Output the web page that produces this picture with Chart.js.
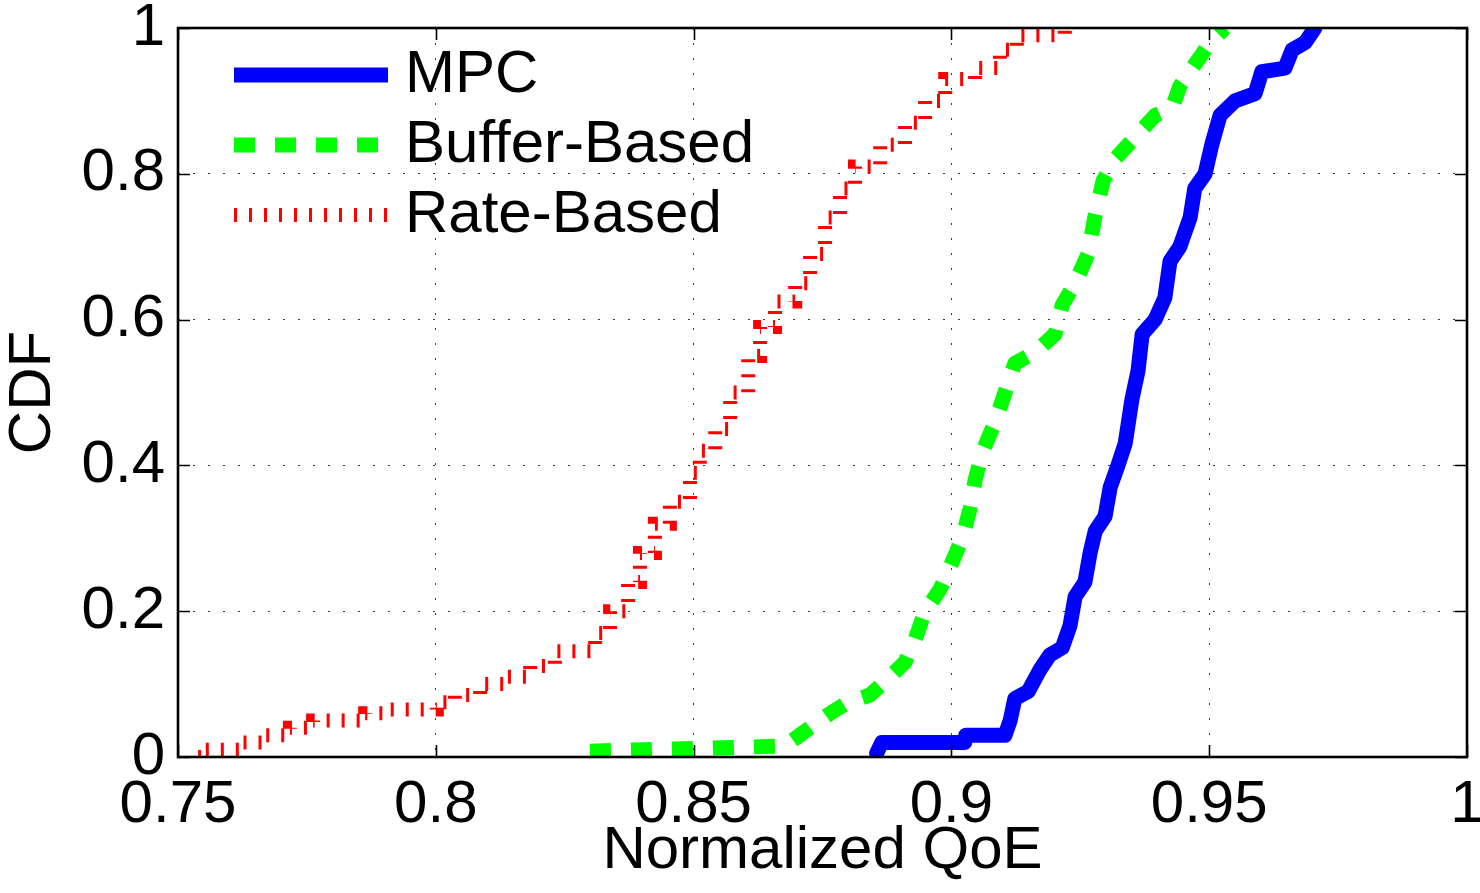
<!DOCTYPE html>
<html>
<head>
<meta charset="utf-8">
<title>CDF of Normalized QoE</title>
<script src="https://cdn.jsdelivr.net/npm/chart.js@4.4.1/dist/chart.umd.min.js"></script>
<style>
  html, body { margin: 0; padding: 0; background: #fff; }
  #cdf-chart { display: block; }
</style>
</head>
<body>
<canvas id="cdf-chart" width="1480" height="893"></canvas>
<script>
"use strict";

// values
const seriesLabels = ["MPC", "Buffer-Based", "Rate-Based"];

const mpcQoe = [0.8855, 0.8865, 0.9026, 0.9028, 0.9104, 0.9114, 0.9123, 0.9149, 0.9172, 0.9191,
  0.9215, 0.923, 0.924, 0.9259, 0.9269, 0.9279, 0.9298, 0.9308, 0.9323, 0.9337,
  0.935, 0.9362, 0.937, 0.9395, 0.9414, 0.9424, 0.9443, 0.9463, 0.9472, 0.9492,
  0.9505, 0.9521, 0.955, 0.9589, 0.9602, 0.9647, 0.9661, 0.9686, 0.9705];
const mpcCdf = [0.005, 0.02, 0.02, 0.03, 0.03, 0.05, 0.08, 0.09, 0.12, 0.14,
  0.15, 0.18, 0.22, 0.24, 0.28, 0.31, 0.33, 0.37, 0.4, 0.43,
  0.49, 0.53, 0.58, 0.6, 0.63, 0.68, 0.7, 0.74, 0.78, 0.8,
  0.84, 0.88, 0.9, 0.91, 0.94, 0.945, 0.97, 0.98, 1.0];

const bufferQoe = [0.8299, 0.8677, 0.8706, 0.8735, 0.8765, 0.8799, 0.8842, 0.8881, 0.891, 0.8929,
  0.8949, 0.8978, 0.8997, 0.9021, 0.9036, 0.9046, 0.9061, 0.9085, 0.9104, 0.9123,
  0.9162, 0.9201, 0.9215, 0.924, 0.9265, 0.9278, 0.9294, 0.9317, 0.9356, 0.9395,
  0.9428, 0.9443, 0.9472, 0.9502, 0.9531];
const bufferCdf = [0.008, 0.015, 0.03, 0.045, 0.06, 0.075, 0.085, 0.11, 0.13, 0.16,
  0.2, 0.23, 0.26, 0.3, 0.34, 0.38, 0.42, 0.46, 0.5, 0.54,
  0.555, 0.58, 0.62, 0.65, 0.69, 0.74, 0.79, 0.82, 0.85, 0.88,
  0.89, 0.92, 0.95, 0.98, 1.0];

const rateQoe = [0.7539, 0.7551, 0.762, 0.7663, 0.7717, 0.7762, 0.7863, 0.7901, 0.8002, 0.8037,
  0.8086, 0.8134, 0.8183, 0.8231, 0.8309, 0.8338, 0.8373, 0.8396, 0.8425, 0.8454,
  0.8493, 0.8512, 0.8542, 0.8571, 0.8606, 0.8629, 0.8658, 0.8697, 0.8726, 0.8755,
  0.8784, 0.8813, 0.8862, 0.891, 0.8949, 0.8988, 0.9046, 0.9094, 0.9127, 0.922];
const rateCdf = [0, 0.01, 0.02, 0.03, 0.04, 0.05, 0.06, 0.065, 0.075, 0.085,
  0.1, 0.11, 0.125, 0.145, 0.17, 0.2, 0.24, 0.28, 0.32, 0.35,
  0.39, 0.42, 0.45, 0.5, 0.55, 0.59, 0.625, 0.65, 0.69, 0.74,
  0.78, 0.81, 0.84, 0.87, 0.9, 0.93, 0.945, 0.97, 0.99, 1.0];

const xTickValues = [0.75, 0.8, 0.85, 0.9, 0.95, 1];
const xTickLabels = ["0.75", "0.8", "0.85", "0.9", "0.95", "1"];
const yTickValues = [0, 0.2, 0.4, 0.6, 0.8, 1];
const yTickLabels = ["0", "0.2", "0.4", "0.6", "0.8", "1"];

const FONT = "'Liberation Sans', Arial, Helvetica, sans-serif";

function toPoints(xs, ys) {
  return xs.map(function (x, i) { return { x: x, y: ys[i] }; });
}

// keep the plot box where the figure has it, labels may stick out
function fixBox(size) {
  return function (scale) {
    if (scale.isHorizontal()) scale.height = size; else scale.width = size;
    scale.paddingLeft = 0;
    scale.paddingRight = 0;
    scale.paddingTop = 0;
    scale.paddingBottom = 0;
  };
}

// black box round the axes with inward tick marks on all four sides
const framePlugin = {
  id: "frame",
  afterDraw: function (chart) {
    const ctx = chart.ctx;
    const a = chart.chartArea;
    const xs = chart.scales.x;
    const ys = chart.scales.y;
    const len = 12;
    ctx.save();
    ctx.strokeStyle = "#000";
    ctx.lineWidth = 1.6;
    ctx.beginPath();
    xTickValues.forEach(function (v) {
      const px = Math.round(xs.getPixelForValue(v)) + 0.5;
      ctx.moveTo(px, a.bottom); ctx.lineTo(px, a.bottom - len);
      ctx.moveTo(px, a.top); ctx.lineTo(px, a.top + len);
    });
    yTickValues.forEach(function (v) {
      const py = Math.round(ys.getPixelForValue(v)) + 0.5;
      ctx.moveTo(a.left, py); ctx.lineTo(a.left + len, py);
      ctx.moveTo(a.right, py); ctx.lineTo(a.right - len, py);
    });
    ctx.stroke();
    ctx.lineWidth = 2.6;
    ctx.strokeRect(a.left, a.top, a.right - a.left, a.bottom - a.top);
    ctx.restore();
  }
};

// legend in the upper left corner, inside the axes, as in the figure
const boxLegendPlugin = {
  id: "boxLegend",
  afterDraw: function (chart) {
    const ctx = chart.ctx;
    const a = chart.chartArea;
    const x0 = a.left + 56, x1 = a.left + 210;
    ctx.save();
    chart.data.datasets.forEach(function (ds, i) {
      const y = a.top + 47 + i * 70;
      ctx.beginPath();
      ctx.strokeStyle = ds.borderColor;
      ctx.lineWidth = ds.borderWidth;
      ctx.lineCap = "butt";
      ctx.setLineDash(ds.borderDash || []);
      ctx.moveTo(x0, y);
      ctx.lineTo(x1, y);
      ctx.stroke();
      ctx.setLineDash([]);
      ctx.fillStyle = "#000";
      ctx.font = "60px " + FONT;
      ctx.textAlign = "left";
      ctx.textBaseline = "middle";
      ctx.fillText(ds.label, a.left + 227, y);
    });
    ctx.restore();
  }
};

const whiteBg = {
  id: "whiteBg",
  beforeDraw: function (chart) {
    const ctx = chart.ctx;
    ctx.save();
    ctx.fillStyle = "#fff";
    ctx.fillRect(0, 0, chart.width, chart.height);
    ctx.restore();
  }
};

const gridOpts = {
  color: "#3a3a3a",
  lineWidth: 1,
  drawTicks: false
};

new Chart(document.getElementById("cdf-chart"), {
  type: "line",
  data: {
    datasets: [
      {
        label: seriesLabels[0],
        data: toPoints(mpcQoe, mpcCdf),
        borderColor: "#0000ff",
        borderWidth: 15,
        borderJoinStyle: "round",
        borderCapStyle: "round",
        pointRadius: 0,
        tension: 0,
        clip: 0
      },
      {
        label: seriesLabels[1],
        data: toPoints(bufferQoe, bufferCdf),
        borderColor: "#00ff00",
        borderWidth: 15,
        borderDash: [21, 20],
        borderJoinStyle: "round",
        borderCapStyle: "butt",
        pointRadius: 0,
        tension: 0,
        clip: 0
      },
      {
        label: seriesLabels[2],
        data: toPoints(rateQoe, rateCdf),
        borderColor: "#ff0000",
        borderWidth: 14,
        borderDash: [3, 12],
        borderCapStyle: "butt",
        stepped: true,
        pointRadius: 0,
        clip: 0
      }
    ]
  },
  plugins: [whiteBg, framePlugin, boxLegendPlugin],
  options: {
    responsive: false,
    animation: false,
    devicePixelRatio: 1,
    layout: { padding: { left: 0, top: 28, right: 13, bottom: 0 } },
    plugins: {
      legend: { display: false },
      tooltip: { enabled: false }
    },
    scales: {
      x: {
        type: "linear",
        min: 0.75,
        max: 1,
        afterFit: fixBox(136),
        afterBuildTicks: function (scale) {
          scale.ticks = xTickValues.map(function (v) { return { value: v }; });
        },
        ticks: {
          color: "#000",
          font: { family: FONT, size: 60 },
          padding: 12,
          maxRotation: 0,
          autoSkip: false,
          callback: function (value) { return xTickLabels[xTickValues.indexOf(value)]; }
        },
        grid: gridOpts,
        border: { display: false, dash: [2, 13] },
        title: {
          display: true,
          text: "Normalized QoE",
          color: "#000",
          font: { family: FONT, size: 60, lineHeight: 1.2 },
          padding: { top: 0, bottom: 6 }
        }
      },
      y: {
        type: "linear",
        min: 0,
        max: 1,
        afterFit: fixBox(178),
        afterBuildTicks: function (scale) {
          scale.ticks = yTickValues.map(function (v) { return { value: v }; });
        },
        ticks: {
          color: "#000",
          font: { family: FONT, size: 60 },
          padding: 13,
          autoSkip: false,
          callback: function (value) { return yTickLabels[yTickValues.indexOf(value)]; }
        },
        grid: gridOpts,
        border: { display: false, dash: [2, 13] },
        title: {
          display: true,
          text: "CDF",
          color: "#000",
          font: { family: FONT, size: 60, lineHeight: 1 },
          padding: { top: 3, bottom: 0 }
        }
      }
    }
  }
});
</script>
</body>
</html>
